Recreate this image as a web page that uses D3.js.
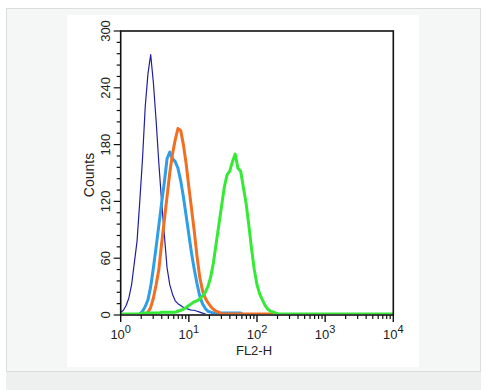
<!DOCTYPE html>
<html>
<head>
<meta charset="utf-8">
<script src="https://cdn.jsdelivr.net/npm/d3@7"></script>
<style>
    body { margin: 0; background: #ffffff; }
    svg { display: block; font-family: "Liberation Sans", Arial, sans-serif; }
</style>
</head>
<body>
<div id="chart"></div>
<script>
// channel grid: log10 decades, 0.04 decade per bin
var BIN_STEP = 0.04;

var yTicks = [0, 60, 120, 180, 240, 300];
var xDecades = [0, 1, 2, 3, 4];

// counts per bin, first bin at the given log10 start
var navyStart = 0.00;
var navyCounts = [3, 5, 10, 18, 32, 55, 78, 120, 165, 220, 255, 275, 245, 205, 160, 120, 85, 50, 32, 22,
    15, 12, 10, 8, 7, 6, 5, 5, 4, 3, 2, 1, 0];

var blueStart = 0.28;
var blueCounts = [1, 4, 9, 16, 30, 50, 72, 95, 118, 140, 165, 172, 165, 162, 155, 142, 125, 105, 85, 65,
    48, 33, 20, 12, 7, 4, 3, 2, 2, 2, 2, 2, 2, 2, 2, 2, 2, 2, 0];

var orangeStart = 0.36;
var orangeCounts = [1, 3, 8, 18, 32, 48, 75, 100, 125, 150, 170, 185, 197, 195, 180, 160, 135, 112, 88, 62,
    40, 26, 18, 13, 9, 6, 4, 3, 1, 1, 1, 1, 1, 1, 1, 1, 1, 1, 1, 1, 1, 1, 1, 1, 1, 1, 1, 1, 0];

var greenStart = 0.00;
var greenCounts = [1, 1, 1, 1, 1, 1, 1, 1, 2, 2, 2, 2, 2, 2, 2, 3, 3, 3, 3, 3, 3,
    4, 5, 6, 8, 10, 12, 14, 15, 17, 20, 24, 30, 40, 55, 75, 95, 115, 135, 148, 152, 162, 170, 155, 152,
    135, 118, 95, 70, 48, 32, 22, 16, 10, 6, 4, 3, 2,
    1, 1, 1, 1, 1, 1, 1, 1, 1, 1, 1, 1, 1, 1, 1, 1, 1, 1, 1, 1, 1, 1, 1, 1, 1, 1, 1, 1, 1, 1, 1, 1, 1, 1,
    1, 1, 1, 1, 1, 1, 1, 1, 1];

var series = [
    {name: "navy", start: navyStart, counts: navyCounts, color: "#1f1f9e", width: 1.2},
    {name: "blue", start: blueStart, counts: blueCounts, color: "#2e9ee6", width: 3},
    {name: "orange", start: orangeStart, counts: orangeCounts, color: "#f26e22", width: 3},
    {name: "green", start: greenStart, counts: greenCounts, color: "#35ea35", width: 3}
];

var W = 487, H = 390;
var plot = {left: 120.7, right: 393.3, top: 31, bottom: 315};

var svg = d3.select("#chart").append("svg")
    .attr("width", W)
    .attr("height", H);

// page panels
svg.append("rect").attr("x", 6.5).attr("y", 8.5).attr("width", 474).attr("height", 363)
    .attr("fill", "#f5f6f6").attr("stroke", "#dcdddd");
svg.append("rect").attr("x", 6).attr("y", 372).attr("width", 475).attr("height", 18)
    .attr("fill", "#eeefef");
svg.append("rect").attr("x", 67).attr("y", 15).attr("width", 352).attr("height", 352)
    .attr("fill", "#ffffff");

var x = d3.scaleLog().domain([1, 1e4]).range([plot.left, plot.right]);
var y = d3.scaleLinear().domain([0, 300]).range([plot.bottom, plot.top]);

svg.append("clipPath").attr("id", "plot-clip")
    .append("rect")
    .attr("x", plot.left).attr("y", plot.top - 2)
    .attr("width", plot.right - plot.left).attr("height", plot.bottom - plot.top + 1);

var line = d3.line()
    .x(function(d) { return x(d.value); })
    .y(function(d) { return y(d.count); });

var g = svg.append("g").attr("clip-path", "url(#plot-clip)");

series.forEach(function(s) {
    var pts = s.counts.map(function(c, i) {
        return {value: Math.pow(10, s.start + i * BIN_STEP), count: c};
    });
    g.append("path")
        .datum(pts)
        .attr("d", line)
        .attr("fill", "none")
        .attr("stroke", s.color)
        .attr("stroke-width", s.width)
        .attr("stroke-linejoin", "round");
});

// frame
svg.append("rect")
    .attr("x", plot.left).attr("y", plot.top)
    .attr("width", plot.right - plot.left).attr("height", plot.bottom - plot.top)
    .attr("fill", "none").attr("stroke", "#111").attr("stroke-width", 1.6);

// y ticks every 12 counts, labelled every 60
var yMinor = d3.range(0, 301, 12);
svg.append("g").selectAll("line").data(yMinor).enter().append("line")
    .attr("x1", function(d) { return yTicks.indexOf(d) >= 0 ? plot.left - 7 : plot.left - 4; })
    .attr("x2", plot.left)
    .attr("y1", function(d) { return y(d); })
    .attr("y2", function(d) { return y(d); })
    .attr("stroke", "#111").attr("stroke-width", 1.2);

svg.append("g").selectAll("text").data(yTicks).enter().append("text")
    .attr("transform", function(d) { return "translate(" + 110 + "," + y(d) + ") rotate(-90)"; })
    .attr("text-anchor", "middle")
    .attr("font-size", "13px")
    .attr("fill", "#222")
    .text(function(d) { return d; });

svg.append("text")
    .attr("transform", "translate(94,175) rotate(-90)")
    .attr("text-anchor", "middle")
    .attr("font-size", "14px")
    .attr("fill", "#222")
    .text("Counts");

// x ticks: decades plus 2..9 minors
var xMinor = [];
for (var dec = 0; dec < 4; dec++) {
    for (var m = 2; m <= 9; m++) { xMinor.push(m * Math.pow(10, dec)); }
}
svg.append("g").selectAll("line").data(xMinor).enter().append("line")
    .attr("x1", function(d) { return x(d); })
    .attr("x2", function(d) { return x(d); })
    .attr("y1", plot.bottom)
    .attr("y2", plot.bottom + 4)
    .attr("stroke", "#111").attr("stroke-width", 1.2);
svg.append("g").selectAll("line").data(xDecades).enter().append("line")
    .attr("x1", function(d) { return x(Math.pow(10, d)); })
    .attr("x2", function(d) { return x(Math.pow(10, d)); })
    .attr("y1", plot.bottom)
    .attr("y2", plot.bottom + 7)
    .attr("stroke", "#111").attr("stroke-width", 1.4);

var xl = svg.append("g").selectAll("text").data(xDecades).enter().append("text")
    .attr("x", function(d) { return x(Math.pow(10, d)); })
    .attr("y", 339)
    .attr("text-anchor", "middle")
    .attr("font-size", "13px")
    .attr("fill", "#222");
xl.append("tspan").text("10");
xl.append("tspan").attr("dy", -6).attr("font-size", "11px").text(function(d) { return d; });

svg.append("text")
    .attr("x", 254).attr("y", 355)
    .attr("text-anchor", "middle")
    .attr("font-size", "13px")
    .attr("fill", "#222")
    .text("FL2-H");
</script>
</body>
</html>
